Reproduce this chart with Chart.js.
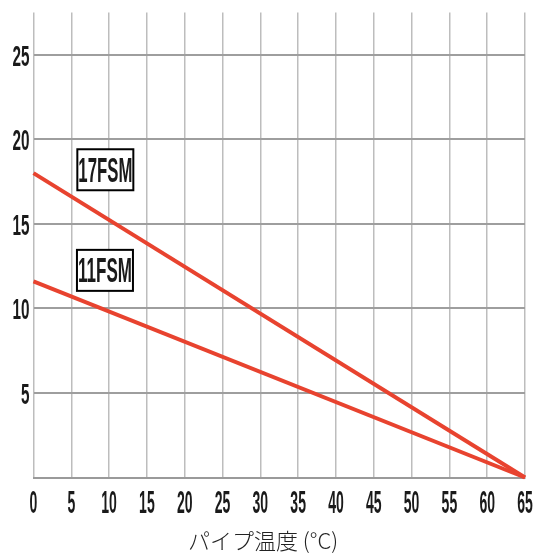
<!DOCTYPE html>
<html>
<head>
<meta charset="utf-8">
<script src="https://cdn.jsdelivr.net/npm/chart.js@4.4.1/dist/chart.umd.min.js"></script>
<style>
html,body{margin:0;padding:0;background:#fff;}
#wrap{position:relative;width:535px;height:553px;}
</style>
</head>
<body>
<div id="wrap"><canvas id="c"></canvas></div>
<script>
// ---- data ----
const temps = [0, 65];
const series17FSM = [18.0, 0];
const series11FSM = [11.6, 0];
const seriesNames = ['17FSM', '11FSM'];
const xTickValues = [0,5,10,15,20,25,30,35,40,45,50,55,60,65];
const yTickValues = [5,10,15,20,25];
const xTitle = 'パイプ温度 (°C)';

// label anchor positions (data coordinates), kept separate from data
const labelAnchors = [{x: 9.5, y: 18.2}, {x: 9.45, y: 12.25}];

const RED = '#e8432f';
const FONT = '"Liberation Sans", Arial, sans-serif';
const toPts = (xs, ys) => xs.map((x, i) => ({x: x, y: ys[i]}));

// draw condensed text whose digit/cap height is capH and whose width per char matches charW
function drawFit(ctx, text, x, baseY, capH, charW, align, weight) {
  ctx.save();
  ctx.font = weight + ' 100px ' + FONT;
  const m = ctx.measureText('0');
  const h = m.actualBoundingBoxAscent || 72;
  const size = 100 * capH / h;
  ctx.font = weight + ' ' + size.toFixed(2) + 'px ' + FONT;
  const w = ctx.measureText(text).width;
  const target = charW * text.length;
  const sx = target / w;
  ctx.textBaseline = 'alphabetic';
  ctx.textAlign = align;
  ctx.translate(x, baseY);
  ctx.scale(sx, 1);
  ctx.fillText(text, 0, 0);
  ctx.restore();
}

const textPlugin = {
  id: 'textPlugin',
  afterDraw(chart) {
    const ctx = chart.ctx;
    const xs = chart.scales.x, ys = chart.scales.y;
    ctx.fillStyle = '#1a1a1a';
    // y tick labels
    yTickValues.forEach(v => {
      drawFit(ctx, String(v), 29.5, ys.getPixelForValue(v) + 11, 21, 8.5, 'right', 'bold');
    });
    // x tick labels
    xTickValues.forEach(v => {
      drawFit(ctx, String(v), xs.getPixelForValue(v), 513, 22, 7.8, 'center', 'bold');
    });
    // axis title
    ctx.save();
    ctx.fillStyle = '#222';
    ctx.font = '300 22px "Noto Sans CJK JP", sans-serif';
    ctx.textAlign = 'center';
    ctx.textBaseline = 'middle';
    ctx.fillText(xTitle, 263, 541);
    ctx.restore();
    // series labels
    seriesNames.forEach((name, i) => {
      const cx = xs.getPixelForValue(labelAnchors[i].x);
      const cy = ys.getPixelForValue(labelAnchors[i].y);
      const w = 56, h = 41;
      ctx.save();
      ctx.fillStyle = '#fff';
      ctx.fillRect(cx - w/2, cy - h/2, w, h);
      ctx.strokeStyle = '#000';
      ctx.lineWidth = 2;
      ctx.strokeRect(cx - w/2, cy - h/2, w, h);
      ctx.restore();
      ctx.fillStyle = '#1a1a1a';
      drawFit(ctx, name, cx, cy + 12, 24, 10.8, 'center', 'bold');
    });
  }
};

new Chart(document.getElementById('c'), {
  type: 'line',
  data: {
    datasets: [
      {label: seriesNames[0], data: toPts(temps, series17FSM), borderColor: RED, borderWidth: 4, pointRadius: 0, clip: false, tension: 0},
      {label: seriesNames[1], data: toPts(temps, series11FSM), borderColor: RED, borderWidth: 4, pointRadius: 0, clip: false, tension: 0}
    ]
  },
  options: {
    responsive: true,
    maintainAspectRatio: false,
    animation: false,
    layout: {padding: {left: 33.5, top: 12.5, right: 10, bottom: 75.5}},
    plugins: {legend: {display: false}, tooltip: {enabled: false}},
    scales: {
      x: {
        type: 'linear', min: 0, max: 65,
        ticks: {display: false, stepSize: 5},
        afterBuildTicks: s => { s.ticks = xTickValues.map(v => ({value: v})); },
        grid: {color: '#bdbdbd', lineWidth: 1.5, drawTicks: false},
        border: {display: true, color: '#9a9a9a', width: 2}
      },
      y: {
        type: 'linear', min: 0, max: 27.5,
        ticks: {display: false, stepSize: 5},
        afterBuildTicks: s => { s.ticks = [0].concat(yTickValues).map(v => ({value: v})); },
        grid: {color: '#9e9e9e', lineWidth: 2, drawTicks: false},
        border: {display: false}
      }
    }
  },
  plugins: [textPlugin]
});
</script>
</body>
</html>
